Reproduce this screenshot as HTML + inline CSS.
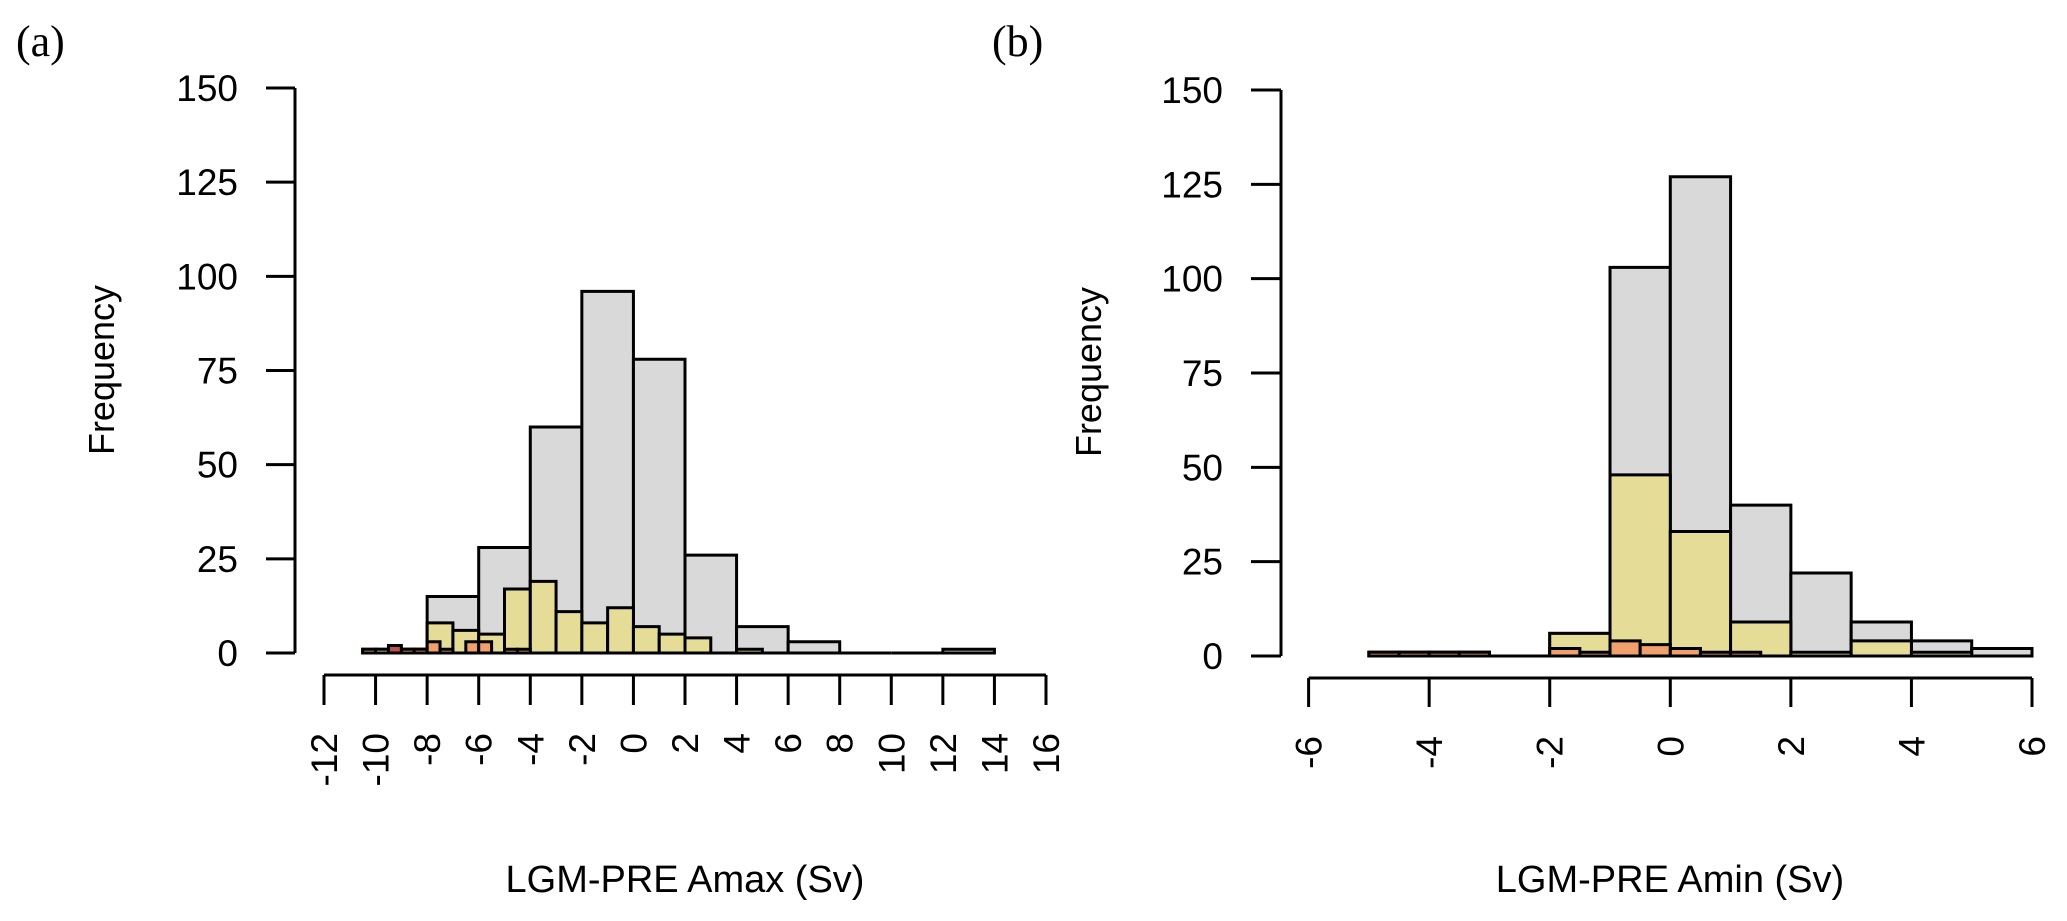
<!DOCTYPE html>
<html><head><meta charset="utf-8"><style>
html,body{margin:0;padding:0;background:#fff;}
svg{display:block;}
text{font-family:"Liberation Sans",Arial,sans-serif;fill:#000;}
</style></head>
<body>
<svg id="chart" width="2067" height="921" viewBox="0 0 2067 921" xmlns="http://www.w3.org/2000/svg"></svg>
<script>
// ----- Panel (a) data -----
const aGrayEdges = [-10.5,-8,-6,-4,-2,0,2,4,6,8,10,12,14];
const aGrayCounts = [1,15,28,60,96,78,26,7,3,0,0,1];
const aYellowStart = -10;
const aYellowCounts = [1,1,8,6,5,17,19,11,8,12,7,5,4,0,1];
const aRedStart = -10.5;
const aRedCounts = [1,0,0,1,1,3,1,0,3,3,0,1,1];
const aDarkStart = -9.5;
const aDarkCounts = [2];
const aXTicks = [-12,-10,-8,-6,-4,-2,0,2,4,6,8,10,12,14,16];
const aYTicks = [0,25,50,75,100,125,150];
// ----- Panel (b) data -----
const bGrayStart = -5;
const bGrayCounts = [1,1,0,6,103,127,40,22,9,4,2];
const bYellowStart = -5;
const bYellowCounts = [1,1,0,6,48,33,9,1,4,1,0];
const bRedStart = -5;
const bRedCounts = [1,1,1,1,0,0,2,1,4,3,2,1,1];
const bXTicks = [-6,-4,-2,0,2,4,6];
const bYTicks = [0,25,50,75,100,125,150];

const svg = document.getElementById('chart');
const NS = 'http://www.w3.org/2000/svg';
function mk(tag, attrs){const e=document.createElementNS(NS,tag);for(const k in attrs)e.setAttribute(k,attrs[k]);svg.appendChild(e);return e;}

function panel(cfg){
  const xs = v => cfg.x0 + (v - cfg.xmin) * (cfg.x1 - cfg.x0) / (cfg.xmax - cfg.xmin);
  const ys = v => cfg.y0 + (v) * (cfg.y150 - cfg.y0) / 150;
  function bars(edges, counts, fill, name){
    for(let i=0;i<counts.length;i++){
      const xa=xs(edges[i]), xb=xs(edges[i+1]), yt=ys(counts[i]), yb=ys(0);
      const p=mk('path',{d:`M${xa},${yb}L${xa},${yt}L${xb},${yt}L${xb},${yb}Z`,fill:fill,stroke:'#000','stroke-width':3,'stroke-linejoin':'miter'});
      
      
    }
  }
  const uni=(s,w,n)=>{const e=[];for(let i=0;i<=n;i++)e.push(s+i*w);return e;};
  for(const s of cfg.series){
    const edges = s.edges || uni(s.start, s.width, s.counts.length);
    bars(edges, s.counts, s.fill, cfg.id+'-'+s.name);
  }
  let l=mk('line',{x1:cfg.yAxisX,y1:ys(0),x2:cfg.yAxisX,y2:ys(150),stroke:'#000','stroke-width':3});
  
  
  for(const t of cfg.yTicks){
    const tk=mk('line',{x1:cfg.yTickX,y1:ys(t),x2:cfg.yAxisX,y2:ys(t),stroke:'#000','stroke-width':3});
    
    
    const tx=mk('text',{x:cfg.yLabelX,y:ys(t)+13,'text-anchor':'end','font-size':cfg.fs});
    tx.textContent=t;
    
    
  }
  l=mk('line',{x1:xs(cfg.xTicks[0]),y1:cfg.xAxisY,x2:xs(cfg.xTicks[cfg.xTicks.length-1]),y2:cfg.xAxisY,stroke:'#000','stroke-width':3});
  
  
  for(const t of cfg.xTicks){
    const x=xs(t);
    const tk=mk('line',{x1:x,y1:cfg.xAxisY,x2:x,y2:cfg.xTickY,stroke:'#000','stroke-width':3});
    
    
    const tx=mk('text',{x:x+13,y:cfg.xLabelY,'text-anchor':'end','font-size':cfg.fs,transform:`rotate(-90 ${x+13} ${cfg.xLabelY})`});
    tx.textContent=t;
    
    
  }
  let tt=mk('text',{x:cfg.xTitleX,y:892,'text-anchor':'middle','font-size':38});
  tt.textContent=cfg.xTitle;
  
  
  tt=mk('text',{x:cfg.yTitleX,y:cfg.yTitleY,'text-anchor':'middle','font-size':36,transform:`rotate(-90 ${cfg.yTitleX} ${cfg.yTitleY})`});
  tt.textContent='Frequency';
  
  
  tt=mk('text',{x:cfg.tagX,y:56,'font-size':44,style:'font-family:"Liberation Serif",serif'});
  tt.textContent=cfg.tag;
  
  
}

panel({id:'a',xmin:-12,xmax:16,x0:324,x1:1046,y0:653,y150:88,
  yAxisX:295,yTickX:266,yLabelX:238,xAxisY:675,xTickY:705,xLabelY:733,fs:37,
  xTicks:aXTicks,yTicks:aYTicks,xTitle:'LGM-PRE Amax (Sv)',xTitleX:685,yTitleX:114,yTitleY:370,tag:'(a)',tagX:16,
  series:[
    {name:'all',edges:aGrayEdges,counts:aGrayCounts,fill:'#d9d9d9'},
    {name:'subset',start:aYellowStart,width:1,counts:aYellowCounts,fill:'#e5dc98'},
    {name:'best',start:aRedStart,width:0.5,counts:aRedCounts,fill:'#f0a06c'},
    {name:'best-dark',start:aDarkStart,width:0.5,counts:aDarkCounts,fill:'#c0504a'}
  ]});
panel({id:'b',xmin:-6,xmax:6,x0:1308.6,x1:2032,y0:656,y150:90,
  yAxisX:1281,yTickX:1251,yLabelX:1223,xAxisY:678,xTickY:707,xLabelY:736,fs:37,
  xTicks:bXTicks,yTicks:bYTicks,xTitle:'LGM-PRE Amin (Sv)',xTitleX:1670,yTitleX:1101,yTitleY:372,tag:'(b)',tagX:992,
  series:[
    {name:'all',start:bGrayStart,width:1,counts:bGrayCounts,fill:'#d9d9d9'},
    {name:'subset',start:bYellowStart,width:1,counts:bYellowCounts,fill:'#e5dc98'},
    {name:'best',start:bRedStart,width:0.5,counts:bRedCounts,fill:'#f0a06c'}
  ]});
</script>
</body></html>
